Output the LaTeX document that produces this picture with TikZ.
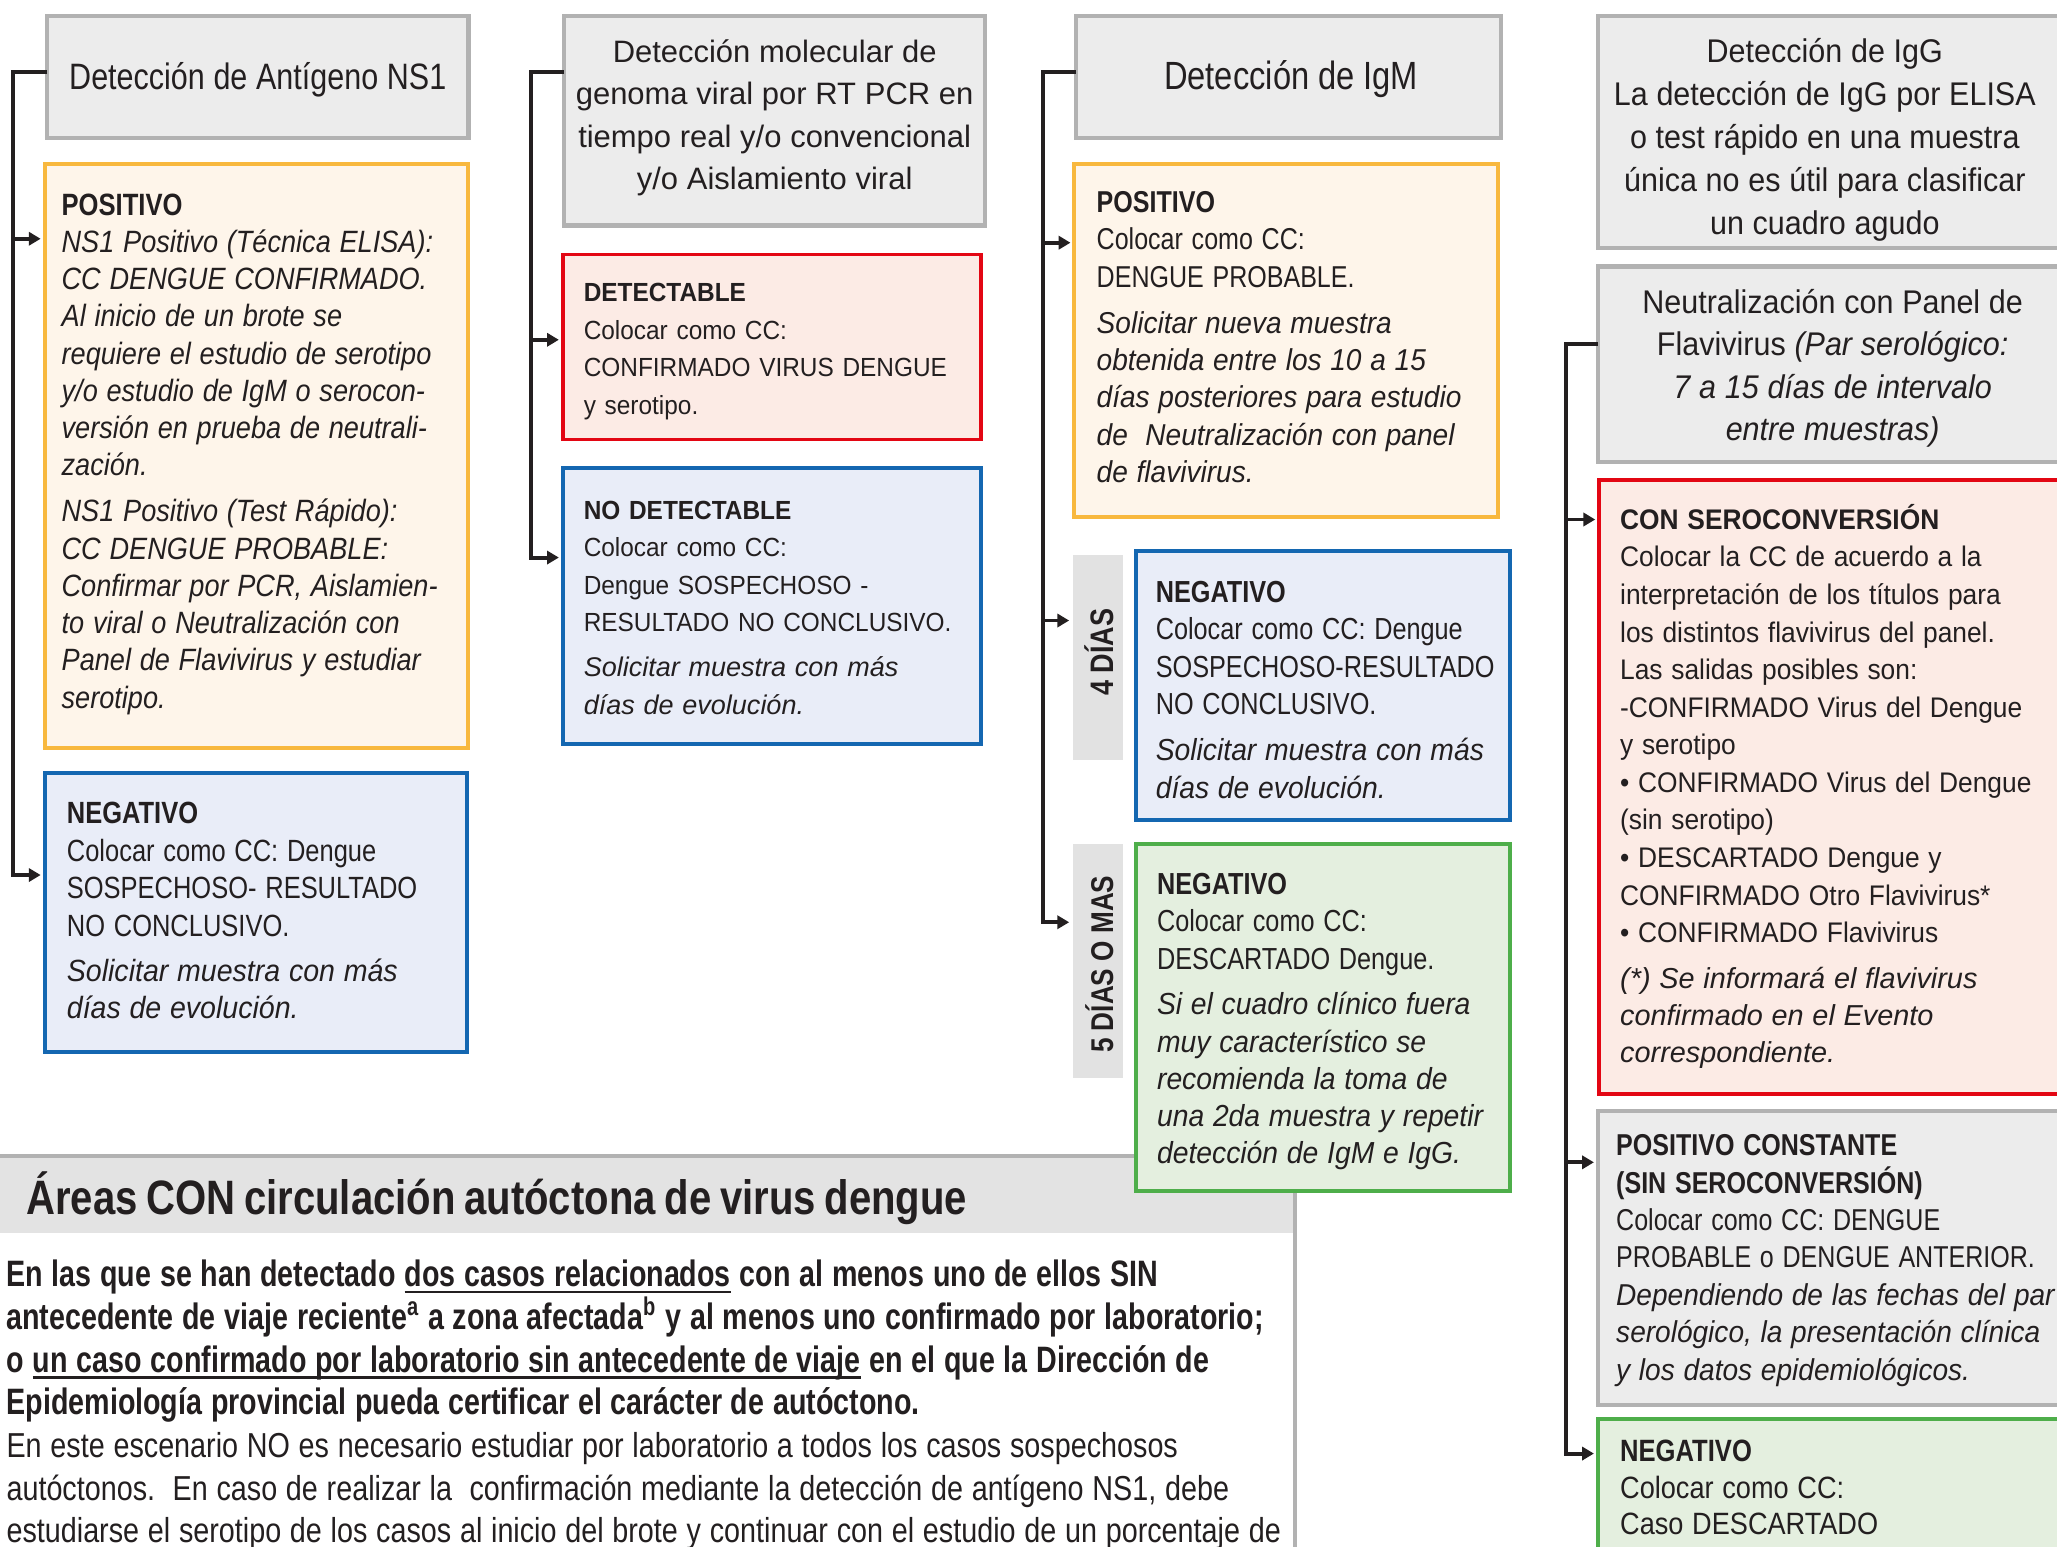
\documentclass[tikz,border=0pt]{standalone}
\usepackage{fontspec}
\usetikzlibrary{arrows.meta,fit,calc}
\setmainfont{Liberation Sans}
\newfontfamily\fA[FakeStretch=0.78]{Liberation Sans}
\newfontfamily\fB[FakeStretch=0.83]{Liberation Sans}
\newfontfamily\fC[FakeStretch=0.88]{Liberation Sans}
\newfontfamily\fD[FakeStretch=0.93]{Liberation Sans}
\newfontfamily\fE{Liberation Sans}
\newsavebox\ulbox
\newcommand\ulx[1]{\sbox\ulbox{#1}\rlap{\rule[-2.4pt]{\wd\ulbox}{0.9pt}}\usebox\ulbox}
\definecolor{ink}{HTML}{231F20}
\definecolor{hdrfill}{HTML}{ECECEC}
\definecolor{hdrline}{HTML}{B2B2B2}
\definecolor{creamfill}{HTML}{FEF5EA}
\definecolor{orangeline}{HTML}{F8B83E}
\definecolor{pinkfill}{HTML}{FCEBE5}
\definecolor{redline}{HTML}{E30613}
\definecolor{bluefill}{HTML}{E9EDF8}
\definecolor{blueline}{HTML}{1467B1}
\definecolor{greenfill}{HTML}{E4EFDF}
\definecolor{greenline}{HTML}{4EAE4A}
\definecolor{tabfill}{HTML}{E2E2E2}
\definecolor{bandfill}{HTML}{E3E3E3}
\hyphenpenalty=10000
\tikzset{
  fitbox/.style={inner sep=0pt, outer sep=0pt},
  hdrbox/.style={fitbox, draw=hdrline, fill=hdrfill, line width=1.7pt},
  posbox/.style={fitbox, draw=orangeline, fill=creamfill, line width=1.5pt},
  redbox/.style={fitbox, draw=redline, fill=pinkfill, line width=1.5pt},
  bluebox/.style={fitbox, draw=blueline, fill=bluefill, line width=1.5pt},
  greenbox/.style={fitbox, draw=greenline, fill=greenfill, line width=1.5pt},
  tabbox/.style={fitbox, fill=tabfill},
  txt/.style={anchor=base west, inner sep=0pt, outer sep=0pt, align=left, text width=#1, text=ink},
  ctxt/.style={anchor=base, inner sep=0pt, outer sep=0pt, align=center, text width=#1, text=ink},
  wire/.style={draw=ink, line width=1.5pt},
  arr/.style={wire, -{Triangle[length=4.5pt,width=5pt]}, shorten >=1.5pt},
  bandline/.style={draw=hdrline, line width=1.7pt},
}
\begin{document}
\begin{tikzpicture}[x=0.5pt,y=-0.5pt]
\useasboundingbox (0,0) rectangle (1568,1179);
\clip (0,0) rectangle (1568,1179);
\fill[white] (0,0) rectangle (1568,1179);

% ---------- bottom band ----------
\node[fitbox, fill=bandfill, fit={(0,881)(987,940)}] (band) {};
\coordinate (bandbot) at (987,1185);
\draw[bandline] (band.north west) -- (band.north east) -- (bandbot);
\node[txt=480pt] (bandtitle) at (20,926) {\fB\bfseries\fontsize{18.4pt}{20pt}\selectfont Áreas CON circulación autóctona de virus dengue\par};
\node[txt=520pt] (para) at (5,981) {\fontsize{14pt}{16.25pt}\selectfont\fA\bfseries
En las que se han detectado \ulx{dos casos relacionados} con al menos uno de ellos SIN\\
antecedente de viaje reciente\textsuperscript{a} a zona afectada\textsuperscript{b} y al menos uno confirmado por laboratorio;\\
o \ulx{un caso confirmado por laboratorio sin antecedente de viaje} en el que la Dirección de\\
Epidemiología provincial pueda certificar el carácter de autóctono.\\
\fontsize{13.2pt}{16.25pt}\selectfont\fB\mdseries
En este escenario NO es necesario estudiar por laboratorio a todos los casos sospechosos\\
autóctonos.\ \ En caso de realizar la\ \ confirmación mediante la detección de antígeno NS1, debe\\
estudiarse el serotipo de los casos al inicio del brote y continuar con el estudio de un porcentaje de\par};

% ---------- column 1 ----------
\node[hdrbox, fit={(36,12)(357,105)}] (h1) {};
\node[ctxt=170pt] (h1t) at (196.5,68) {\fB\fontsize{14pt}{16pt}\selectfont Detección de Antígeno NS1\par};
\node[posbox, fit={(34,125)(357,570)}] (p1) {};
\node[txt=170pt] (p1t) at (47,164) {\fontsize{11.75pt}{14.2pt}\selectfont
{\fB\bfseries POSITIVO}\\
\fC\itshape NS1 Positivo (Técnica ELISA):\\
CC DENGUE CONFIRMADO.\\
Al inicio de un brote se\\
requiere el estudio de serotipo\\
y/o estudio de IgM o serocon-\\
versión en prueba de neutrali-\\
zación.\\[3.3pt]
NS1 Positivo (Test Rápido):\\
CC DENGUE PROBABLE:\\
Confirmar por PCR, Aislamien-\\
to viral o Neutralización con\\
Panel de Flavivirus y estudiar\\
serotipo.\par};
\node[bluebox, fit={(34,589)(356,802)}] (n1) {};
\node[txt=170pt] (n1t) at (51,628) {\fontsize{11.7pt}{14.3pt}\selectfont
{\fB\bfseries NEGATIVO}\\
\fB Colocar como CC: Dengue\\
SOSPECHOSO- RESULTADO\\
NO CONCLUSIVO.\\[2.7pt]
\fD\itshape Solicitar muestra con más\\
días de evolución.\par};
\coordinate (k1) at (10,55);
\coordinate (k1b) at (10,182);
\coordinate (k1c) at (10,667);
\draw[arr] (k1 -| h1.west) -- (k1) -- (k1c) -- (k1c -| n1.west);
\draw[arr] (k1b) -- (k1b -| p1.west);

% ---------- column 2 ----------
\node[hdrbox, fit={(430,12)(751,172)}] (h2) {};
\node[ctxt=170pt] (h2t) at (590.5,47.5) {\fE\fontsize{11.8pt}{16.15pt}\selectfont
Detección molecular de\\
genoma viral por RT PCR en\\
tiempo real y/o convencional\\
y/o Aislamiento viral\par};
\node[redbox, fit={(429,194)(748,335)}] (d2) {};
\node[txt=170pt] (d2t) at (445,230) {\fD\fontsize{10pt}{14.3pt}\selectfont
{\bfseries DETECTABLE}\\
Colocar como CC:\\
CONFIRMADO VIRUS DENGUE\\
y serotipo.\par};
\node[bluebox, fit={(429,357)(748,567)}] (nd2) {};
\node[txt=170pt] (nd2t) at (445,396) {\fD\fontsize{10pt}{14.2pt}\selectfont
{\bfseries NO DETECTABLE}\\
Colocar como CC:\\
Dengue SOSPECHOSO -\\
RESULTADO NO CONCLUSIVO.\\[3.2pt]
\fE\fontsize{10.3pt}{14.2pt}\selectfont\itshape Solicitar muestra con más\\
días de evolución.\par};
\coordinate (k2) at (405,55);
\coordinate (k2b) at (405,259);
\coordinate (k2c) at (405,425);
\draw[arr] (k2 -| h2.west) -- (k2) -- (k2c) -- (k2c -| nd2.west);
\draw[arr] (k2b) -- (k2b -| d2.west);

% ---------- column 3 ----------
\node[hdrbox, fit={(820,12)(1144,105)}] (h3) {};
\node[ctxt=170pt] (h3t) at (984,68.5) {\fB\fontsize{15pt}{17pt}\selectfont Detección de IgM\par};
\node[posbox, fit={(819,125)(1142,394)}] (p3) {};
\node[txt=170pt] (p3t) at (836,162) {\fontsize{11.5pt}{14.25pt}\selectfont
{\fB\bfseries POSITIVO}\\
\fB Colocar como CC:\\
DENGUE PROBABLE.\\[3.25pt]
\fD\itshape Solicitar nueva muestra\\
obtenida entre los 10 a 15\\
días posteriores para estudio\\
de\ \ Neutralización con panel\\
de flavivirus.\par};
\node[tabbox, fit={(818,423)(856,579)}] (tab4) {};
\node[rotate=90, inner sep=0pt, text=ink] (tab4t) at (838,497) {\fB\bfseries\fontsize{12.4pt}{14pt}\selectfont 4 DÍAS};
\node[bluebox, fit={(866,420)(1151,625)}] (n3) {};
\node[txt=170pt] (n3t) at (881,459) {\fontsize{11.6pt}{14.3pt}\selectfont
{\fB\bfseries NEGATIVO}\\
\fB Colocar como CC: Dengue\\
SOSPECHOSO-RESULTADO\\
NO CONCLUSIVO.\\[3.2pt]
\fD\itshape Solicitar muestra con más\\
días de evolución.\par};
\node[tabbox, fit={(818,643)(856,822)}] (tab5) {};
\node[rotate=90, inner sep=0pt, text=ink] (tab5t) at (838,735) {\fB\bfseries\fontsize{12pt}{14pt}\selectfont 5 DÍAS O MAS};
\node[greenbox, fit={(866,643)(1151,908)}] (g3) {};
\node[txt=170pt] (g3t) at (882,682) {\fontsize{11.6pt}{14.2pt}\selectfont
{\fB\bfseries NEGATIVO}\\
\fB Colocar como CC:\\
DESCARTADO Dengue.\\[3.2pt]
\fD\itshape Si el cuadro clínico fuera\\
muy característico se\\
recomienda la toma de\\
una 2da muestra y repetir\\
detección de IgM e IgG.\par};
\coordinate (k3) at (795,55);
\coordinate (k3b) at (795,185);
\coordinate (k3c) at (795,473);
\coordinate (k3d) at (795,703);
\draw[arr] (k3 -| h3.west) -- (k3) -- (k3d) -- (k3d -| tab5.west);
\draw[arr] (k3b) -- (k3b -| p3.west);
\draw[arr] (k3c) -- (k3c -| tab4.west);

% ---------- column 4 ----------
\node[hdrbox, fit={(1218,12)(1590,189)}] (h4a) {};
\node[ctxt=190pt] (h4at) at (1391,48) {\fD\fontsize{12.5pt}{16.35pt}\selectfont
Detección de IgG\\
La detección de IgG por ELISA\\
o test rápido en una muestra\\
única no es útil para clasificar\\
un cuadro agudo\par};
\node[hdrbox, fit={(1218,203)(1590,352)}] (h4b) {};
\node[ctxt=190pt] (h4bt) at (1397,239) {\fD\fontsize{12.5pt}{16.15pt}\selectfont
Neutralización con Panel de\\
Flavivirus {\itshape (Par serológico:}\\
{\itshape 7 a 15 días de intervalo}\\
{\itshape entre muestras)}\par};
\node[redbox, fit={(1219,366)(1590,834)}] (cs4) {};
\node[txt=190pt] (cs4t) at (1235,403.5) {\fD\fontsize{10.8pt}{14.32pt}\selectfont
{\bfseries CON SEROCONVERSIÓN}\\
Colocar la CC de acuerdo a la\\
interpretación de los títulos para\\
los distintos flavivirus del panel.\\
Las salidas posibles son:\\
-CONFIRMADO Virus del Dengue\\
y serotipo\\
• CONFIRMADO Virus del Dengue\\
(sin serotipo)\\
• DESCARTADO Dengue y\\
CONFIRMADO Otro Flavivirus*\\
• CONFIRMADO Flavivirus\\[3.2pt]
\fE\fontsize{11pt}{14.2pt}\selectfont\itshape (*) Se informará el flavivirus\\
confirmado en el Evento\\
correspondiente.\par};
\node[hdrbox, fit={(1218,847)(1590,1071)}] (pc4) {};
\node[txt=190pt] (pc4t) at (1232,881) {\fontsize{11.5pt}{14.25pt}\selectfont
{\fB\bfseries POSITIVO CONSTANTE}\\
{\fB\bfseries (SIN SEROCONVERSIÓN)}\\
\fB Colocar como CC: DENGUE\\
PROBABLE o DENGUE ANTERIOR.\\
\fD\itshape Dependiendo de las fechas del par\\
serológico, la presentación clínica\\
y los datos epidemiológicos.\par};
\node[greenbox, fit={(1218,1082)(1590,1200)}] (ng4) {};
\node[txt=190pt] (ng4t) at (1235,1114) {\fontsize{11.75pt}{14pt}\selectfont
{\fB\bfseries NEGATIVO}\\
\fC Colocar como CC:\\
Caso DESCARTADO\par};
\coordinate (k4) at (1194,262);
\coordinate (k4b) at (1194,396);
\coordinate (k4c) at (1194,886);
\coordinate (k4d) at (1194,1108);
\draw[arr] (k4 -| h4b.west) -- (k4) -- (k4d) -- (k4d -| ng4.west);
\draw[arr] (k4b) -- (k4b -| cs4.west);
\draw[arr] (k4c) -- (k4c -| pc4.west);
\end{tikzpicture}
\end{document}
